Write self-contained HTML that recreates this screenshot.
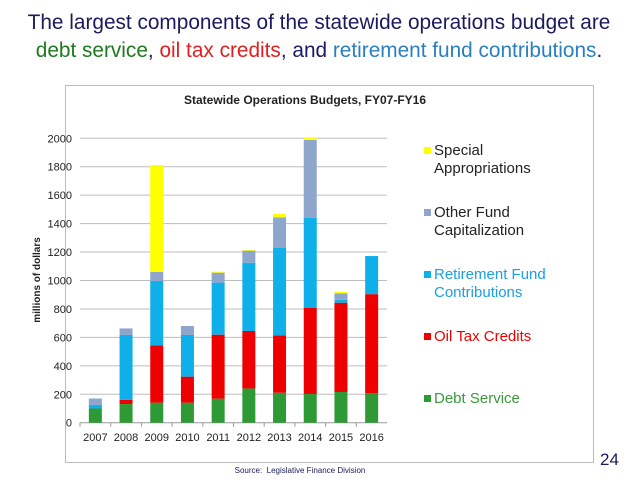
<!DOCTYPE html>
<html><head><meta charset="utf-8"><style>
body{margin:0;width:638px;height:479px;background:#fff;position:relative;overflow:hidden;font-family:"Liberation Sans",Arial,sans-serif}
.h{position:absolute;left:0;width:638px;text-align:center;font-size:20.8px;color:#1a1a5e}
</style></head><body>
<div class="h" style="top:11px">The largest components of the statewide operations budget are</div>
<div class="h" style="top:39px"><span style="color:#1e7a1e">debt service</span>, <span style="color:#e02020">oil tax credits</span>, and <span style="color:#2a7fc0">retirement fund contributions</span>.</div>
<svg id="c" width="638" height="479" style="position:absolute;left:0;top:0"></svg>
<div style="position:absolute;left:600px;top:450px;font-size:17px;color:#1a1a5e">24</div>
<div style="position:absolute;left:0;width:600px;text-align:center;top:466px;font-size:8px;color:#1a1a5e">Source:&nbsp; Legislative Finance Division</div>
<script>
const years=["2007","2008","2009","2010","2011","2012","2013","2014","2015","2016"];
const debt=[100,131,141,141,169,241,211,202,216,209];
const oil=[0,29,403,183,450,404,403,607,628,695];
const retire=[25,457,453,293,366,480,617,633,20,268];
const other=[45,46,63,63,70,85,213,546,46,0];
const special=[0,0,752,0,7,5,24,19,11,0];
const ticks=[0,200,400,600,800,1000,1200,1400,1600,1800,2000];
const series=[["debt-service",debt,"#2e9a35"],["oil-tax-credits",oil,"#ee0000"],["retirement-fund",retire,"#0fb0ea"],["other-fund",other,"#8ea6cc"],["special-appropriations",special,"#ffff00"]];
const NS="http://www.w3.org/2000/svg",svg=document.getElementById('c');
function el(t,a,p){const e=document.createElementNS(NS,t);for(const k in a)e.setAttribute(k,a[k]);(p||svg).appendChild(e);return e;}
const x0=80,x1=387,y0=422.7,y1=138.3;
const ys=v=>y0-(v/2000)*(y0-y1);
const step=(x1-x0)/years.length;
const xs=i=>x0+step*(i+0.5);
let f=el('rect',{x:65.5,y:85.5,width:528,height:377,fill:'#fff',stroke:'#bbb'});

let t=el('text',{x:305,y:104,'text-anchor':'middle','font-size':12,'font-weight':'bold',fill:'#222'});t.textContent='Statewide Operations Budgets, FY07-FY16';

ticks.forEach(v=>{const y=ys(v);
 const g=el('line',{x1:x0,x2:x1,y1:y,y2:y,stroke:v?'#bdbdbd':'#999','stroke-width':1});
 
 const l=el('text',{x:x0-8,y:y+4,'text-anchor':'end','font-size':11,fill:'#222'});l.textContent=v;
 });
let yt=el('text',{transform:'translate(40,280) rotate(-90)','text-anchor':'middle','font-size':10,'font-weight':'bold',fill:'#222'});yt.textContent='millions of dollars';

years.forEach((yr,i)=>{
 const tk=el('line',{x1:x0+step*i,x2:x0+step*i,y1:y0,y2:y0+4,stroke:'#999'});
 
 let acc=0;
 series.forEach(([n,arr,c])=>{const v=arr[i];if(v>0){const r=el('rect',{x:xs(i)-6.5,y:ys(acc+v),width:13,height:ys(acc)-ys(acc+v),fill:c});
  }acc+=v;});
 const l=el('text',{x:xs(i),y:441,'text-anchor':'middle','font-size':11,fill:'#222'});l.textContent=yr;
 
});
const leg=[["Special","Appropriations","#ffff00","#222",155],["Other Fund","Capitalization","#8ea6cc","#222",217],["Retirement Fund","Contributions","#0fb0ea","#1aa0e0",279],["Oil Tax Credits","","#ee0000","#ee0000",341],["Debt Service","","#2e9a35","#3a9a3a",403]];
leg.forEach(([a,b,c,tc,y])=>{
 const g=el('g',{});
 el('rect',{x:424,y:y-8,width:7,height:7,fill:c},g);
 const t1=el('text',{x:434,y:y,'font-size':15,fill:tc},g);t1.textContent=a;
 if(b){const t2=el('text',{x:434,y:y+18,'font-size':15,fill:tc},g);t2.textContent=b;}
});
</script>
</body></html>
